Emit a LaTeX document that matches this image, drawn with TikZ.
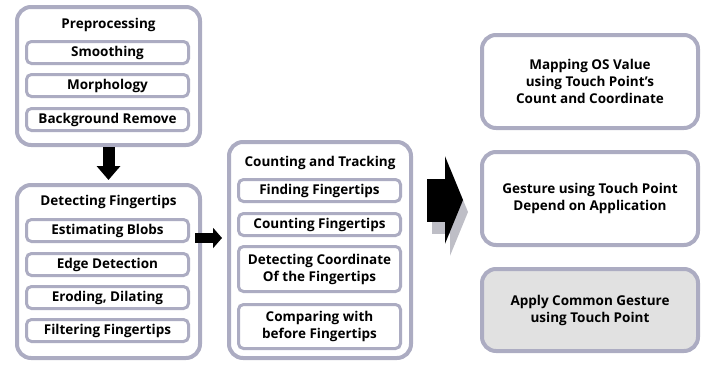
\documentclass[tikz,border=0pt]{standalone}
\usepackage{fontspec}
\setmainfont{Open Sans}
\usetikzlibrary{positioning}
\usetikzlibrary{arrows.meta}
\definecolor{boxline}{RGB}{172,172,194}
\definecolor{boxfill}{RGB}{225,225,225}
\definecolor{shadowgray}{RGB}{190,190,198}

\begin{document}
\begin{tikzpicture}[x=1pt,y=-1pt,font=\fontsize{13.5}{17}\selectfont\bfseries]
		\tikzstyle{stage}=[draw=boxline, line width=4pt, rounded corners=14pt, fill=white, inner sep=0pt, align=center]
		\tikzstyle{sub}=[draw=boxline, line width=3pt, rounded corners=5pt, minimum width=162pt, minimum height=22pt, inner sep=0pt, outer sep=0pt, align=center]
		\tikzstyle{blockarrow}=[line width=12pt, -{Triangle[width=23pt,length=14pt]}]
		\tikzstyle{bigarrow}=[line width=43pt, -{Triangle[width=87pt,length=18pt]}]
		\useasboundingbox (0,0) rectangle (708,367);
		% preprocessing
		\node[stage, minimum width=183pt, minimum height=138pt] (pre) at (108.5,76) {};
		\node (pretitle) at (108.5,25) {Preprocessing};
		\node[sub] (smooth) at (107.5,52.5) {Smoothing};
		\node[sub, below=11pt of smooth] (morph) {Morphology};
		\node[sub, below=12pt of morph] (bgremove) {Background Remove};
		% detecting fingertips
		\node[stage, minimum width=183pt, minimum height=173pt] (det) at (108.5,271.5) {};
		\node (dettitle) at (108.5,202) {Detecting Fingertips};
		\node[sub] (blobs) at (107.5,230.5) {Estimating Blobs};
		\node[sub, below=12pt of blobs] (edge) {Edge Detection};
		\node[sub, below=11pt of edge] (erode) {Eroding, Dilating};
		\node[sub, below=11pt of erode] (filter) {Filtering Fingertips};
		% counting and tracking
		\node[stage, minimum width=182pt, minimum height=216pt] (cnt) at (320,250) {};
		\node (cnttitle) at (320,163) {Counting and Tracking};
		\node[sub] (finding) at (319.5,190.5) {Finding Fingertips};
		\node[sub, below=12pt of finding] (counting) {Counting Fingertips};
		\node[sub, minimum height=45pt, below=11pt of counting] (coord) {Detecting Coordinate\\Of the Fingertips};
		\node[sub, minimum height=44pt, below=13pt of coord] (compare) {Comparing with\\before Fingertips};
		% results
		\node[stage, minimum width=216pt, minimum height=93pt] (mapping) at (590,81.5) {Mapping OS Value\\using Touch Point’s\\Count and Coordinate};
		\node[stage, minimum width=216pt, minimum height=93pt] (gesture) at (590,198.5) {Gesture using Touch Point\\Depend on Application};
		\node[stage, fill=boxfill, minimum width=216pt, minimum height=82pt] (common) at (590,310) {Apply Common Gesture\\using Touch Point};
		% arrows
		\draw[blockarrow, shorten >=3pt] (pre.south) -- (det.north);
		\draw[blockarrow, line width=10pt, -{Triangle[width=20pt,length=9pt]}, shorten <=-7pt, shorten >=5pt] (det.east |- 0,238) -- (cnt.west |- 0,238);
		\coordinate (bigfrom) at (427,200);
		\coordinate (bigto) at (463,200);
		\draw[bigarrow, shadowgray] ([shift={(5,12)}]bigfrom) -- ([shift={(5,12)}]bigto);
		\draw[bigarrow] (bigfrom) -- (bigto);
	\end{tikzpicture}
\end{document}
